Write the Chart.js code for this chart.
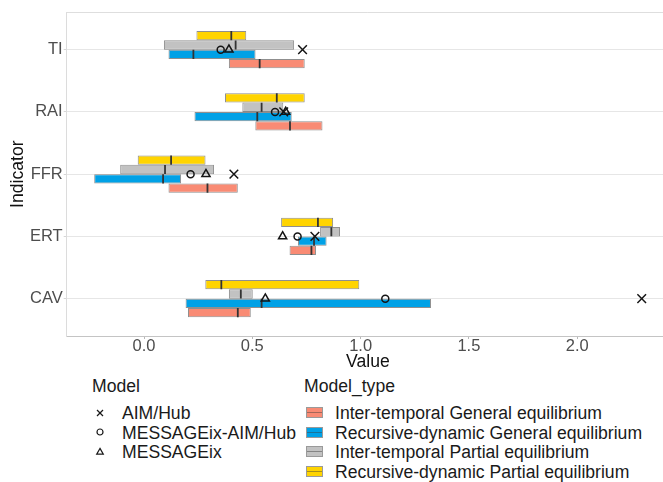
<!DOCTYPE html>
<html>
<head>
<meta charset="utf-8">
<script src="https://cdn.jsdelivr.net/npm/chart.js@4/dist/chart.umd.min.js"></script>
<style>
  html, body { margin: 0; padding: 0; background: #fff; overflow: hidden; width: 663px; height: 482px; }
  #wrap { position: relative; width: 663px; height: 482px; overflow: hidden; }
  #chart { position: absolute; left: 0; top: 0; }
  .lg { position: absolute; font-family: "Liberation Sans", Arial, sans-serif; font-size: 17.6px;
        line-height: 20px; color: #1a1a1a; white-space: nowrap; }
  .sw { position: absolute; width: 15px; height: 9px; border: 1px solid #9a9a9a; box-sizing: content-box; }
  .sw i { position: absolute; left: 0; right: 0; top: 4px; height: 1px; background: rgba(60,60,60,0.45); }
  svg.key { position: absolute; overflow: visible; }
</style>
</head>
<body>
<div id="wrap">
  <!-- the panel continues a few pixels past the visible right edge -->
  <canvas id="chart" width="669" height="375"></canvas>
  <div id="legend"></div>
</div>
<script>
// Indicators, bottom to top on the value axis (1..5)
const indicators = ['CAV', 'ERT', 'FFR', 'RAI', 'TI'];
const xTickValues = [0, 0.5, 1, 1.5, 2];

const modelTypes = [
  'Inter-temporal General equilibrium',
  'Recursive-dynamic General equilibrium',
  'Inter-temporal Partial equilibrium',
  'Recursive-dynamic Partial equilibrium'
];

// Range (low, high) and median per indicator, one set per model type
const itGeneralLow    = [0.203, 0.672, 0.113, 0.514, 0.392];
const itGeneralHigh   = [0.493, 0.794, 0.433, 0.824, 0.742];
const itGeneralMedian = [0.433, 0.773, 0.293, 0.674, 0.534];

const rdGeneralLow    = [0.192, 0.711, -0.230, 0.233, 0.113];
const rdGeneralHigh   = [1.325, 0.843, 0.171, 0.682, 0.515];
const rdGeneralMedian = [0.543, 0.785, 0.088, 0.523, 0.228];

const itPartialLow    = [0.392, 0.813, -0.110, 0.454, 0.092];
const itPartialHigh   = [0.502, 0.905, 0.323, 0.643, 0.693];
const itPartialMedian = [0.447, 0.865, 0.097, 0.543, 0.423];

const rdPartialLow    = [0.283, 0.633, -0.029, 0.374, 0.242];
const rdPartialHigh   = [0.994, 0.873, 0.284, 0.742, 0.472];
const rdPartialMedian = [0.357, 0.803, 0.125, 0.613, 0.403];

// Individual model results per indicator
const modelNames = ['AIM/Hub', 'MESSAGEix-AIM/Hub', 'MESSAGEix'];
const aimHubValues     = [2.298, 0.789, 0.415, 0.645, 0.732];
const messageAimValues = [1.114, 0.709, 0.215, 0.605, 0.354];
const messageixValues  = [0.560, 0.640, 0.286, 0.654, 0.392];

// ---- styling ----
const FONT = '"Liberation Sans", Arial, sans-serif';
const typeColors = ['#F98B74', '#00A1E6', '#C2C2C2', '#FFD400'];
const typeSeries = [
  { low: itGeneralLow, high: itGeneralHigh, med: itGeneralMedian },
  { low: rdGeneralLow, high: rdGeneralHigh, med: rdGeneralMedian },
  { low: itPartialLow, high: itPartialHigh, med: itPartialMedian },
  { low: rdPartialLow, high: rdPartialHigh, med: rdPartialMedian }
];
const stackTopToBottom = [3, 2, 1, 0];   // dodge order inside each indicator
const GROUP = 0.6;                        // share of the indicator slot used by the bars
const slot = GROUP / stackTopToBottom.length;

const barSets = stackTopToBottom.map(t => ({
  type: 'bar',
  label: modelTypes[t],
  order: 2,
  data: indicators.map((_, i) => ({ y: i + 1, x: [typeSeries[t].low[i], typeSeries[t].high[i]] })),
  backgroundColor: typeColors[t],
  borderColor: 'rgba(105,105,105,0.75)',
  borderWidth: 1,
  borderSkipped: false,
  categoryPercentage: GROUP,
  barPercentage: 1,
  grouped: true
}));

const medianSets = stackTopToBottom.map((t, k) => ({
  type: 'scatter',
  label: modelTypes[t] + ' median',
  order: 1,
  data: indicators.map((_, i) => ({ x: typeSeries[t].med[i], y: i + 1 + GROUP / 2 - slot * (k + 0.5) })),
  pointStyle: 'line',
  pointRotation: 90,
  pointRadius: 4.6,
  pointBorderColor: '#333333',
  pointBorderWidth: 1.8,
  pointBackgroundColor: '#333333'
}));

const markerDefs = [
  { values: aimHubValues,     style: 'crossRot', radius: 6.1 },
  { values: messageAimValues, style: 'circle',   radius: 3.5 },
  { values: messageixValues,  style: 'triangle', radius: 4.7 }
];
const markerSets = markerDefs.map((m, j) => ({
  type: 'scatter',
  label: modelNames[j],
  order: 0,
  data: indicators.map((_, i) => ({ x: m.values[i], y: i + 1 })),
  pointStyle: m.style,
  pointRadius: m.radius,
  pointBorderColor: '#151515',
  pointBorderWidth: 1.5,
  pointBackgroundColor: 'rgba(0,0,0,0)'
}));

// top edge of the panel
const panelFrame = {
  id: 'panelFrame',
  beforeDatasetsDraw(chart) {
    const { ctx, chartArea: a } = chart;
    ctx.save();
    ctx.strokeStyle = '#dedede';
    ctx.lineWidth = 1;
    ctx.beginPath();
    ctx.moveTo(a.left, Math.round(a.top) + 0.5);
    ctx.lineTo(a.right, Math.round(a.top) + 0.5);
    ctx.stroke();
    ctx.restore();
  }
};

Chart.defaults.font.family = FONT;

new Chart(document.getElementById('chart'), {
  type: 'bar',
  data: { datasets: [...markerSets, ...medianSets, ...barSets] },
  plugins: [panelFrame],
  options: {
    indexAxis: 'y',
    responsive: false,
    animation: false,
    devicePixelRatio: 1,
    events: [],
    layout: { autoPadding: false, padding: { top: 12.3, left: 0, right: 0, bottom: 0 } },
    plugins: { legend: { display: false }, tooltip: { enabled: false } },
    scales: {
      x: {
        type: 'linear',
        min: -0.357,
        max: 2.424,
        offset: false,
        afterBuildTicks: s => { s.ticks = xTickValues.map(v => ({ value: v })); },
        afterFit: s => { s.height = 39; },
        ticks: {
          callback: v => Number(v).toFixed(1),
          color: '#4d4d4d',
          font: { size: 16.5, lineHeight: 1 },
          padding: -1,
          maxRotation: 0,
          autoSkip: false
        },
        grid: { offset: false, drawOnChartArea: false, drawTicks: true, tickLength: 3, tickColor: '#b8b8b8' },
        border: { display: true, color: '#c4c4c4', width: 1 },
        title: { display: true, text: 'Value', color: '#111', font: { size: 17.6 }, padding: { top: 0, bottom: 2.4 } }
      },
      y: {
        type: 'linear',
        min: 0.4,
        max: 5.6,
        offset: false,
        afterBuildTicks: s => { s.ticks = indicators.map((_, i) => ({ value: i + 1 })); },
        afterFit: s => { s.width = 66.7; },
        ticks: {
          callback: v => indicators[Math.round(v) - 1],
          color: '#4d4d4d',
          font: { size: 16.5 },
          padding: 1,
          autoSkip: false
        },
        grid: { offset: false, color: '#e6e6e6', lineWidth: 1, drawTicks: true, tickLength: 3, tickColor: '#d6d6d6' },
        border: { display: true, color: '#dcdcdc', width: 1 },
        title: { display: true, text: 'Indicator', color: '#111', font: { size: 17.6 }, padding: { top: 7.7, bottom: 0 } }
      }
    }
  }
});

// ---- legend (two keyed columns below the panel) ----
const legend = document.getElementById('legend');
function addText(text, left, centerY) {
  const d = document.createElement('div');
  d.className = 'lg';
  d.textContent = text;
  d.style.left = left + 'px';
  d.style.top = (centerY - 9.8) + 'px';
  legend.appendChild(d);
}
const rowY = [412.9, 432.4, 451.9, 471.4];

addText('Model', 92, 385.7);
const keyShapes = [
  '<line x1="-3" y1="-3" x2="3" y2="3"/><line x1="-3" y1="3" x2="3" y2="-3"/>',
  '<circle cx="0" cy="0" r="3"/>',
  '<polygon points="0,-3.6 3.3,2.2 -3.3,2.2"/>'
];
modelNames.forEach((name, j) => {
  const svg = document.createElementNS('http://www.w3.org/2000/svg', 'svg');
  svg.setAttribute('class', 'key');
  svg.setAttribute('width', '12');
  svg.setAttribute('height', '12');
  svg.setAttribute('viewBox', '-6 -6 12 12');
  svg.style.left = (100 - 6) + 'px';
  svg.style.top = (rowY[j] - 6) + 'px';
  svg.innerHTML = '<g fill="none" stroke="#1a1a1a" stroke-width="1.2">' + keyShapes[j] + '</g>';
  legend.appendChild(svg);
  addText(name, 122, rowY[j]);
});

addText('Model_type', 304, 385.7);
modelTypes.forEach((name, t) => {
  const sw = document.createElement('div');
  sw.className = 'sw';
  sw.style.left = '306px';
  sw.style.top = (rowY[t] - 5.5) + 'px';
  sw.style.background = typeColors[t];
  sw.appendChild(document.createElement('i'));
  legend.appendChild(sw);
  addText(name, 335, rowY[t]);
});
</script>
</body>
</html>
